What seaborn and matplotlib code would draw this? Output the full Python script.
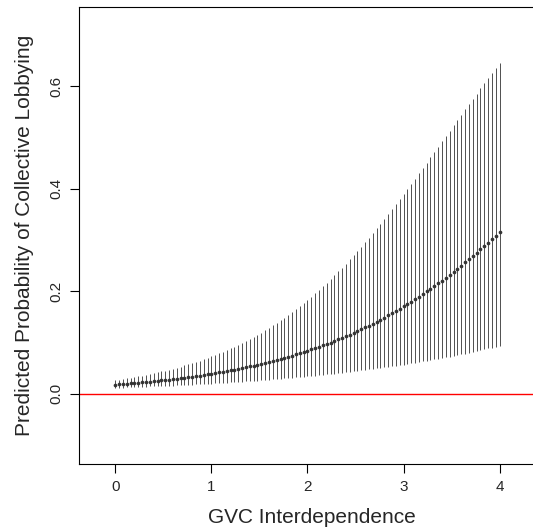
import numpy as np
import seaborn as sns
import matplotlib.pyplot as plt

# GVC interdependence grid (step 0.04)
gvc = np.round(np.arange(0, 101) * 0.04, 2)

# predicted probability (point estimate)
pred = [
    0.0180, 0.0186, 0.0192, 0.0198, 0.0204, 0.0211, 0.0217, 0.0224, 0.0232, 0.0239,
    0.0247, 0.0254, 0.0263, 0.0271, 0.0280, 0.0289, 0.0298, 0.0307, 0.0317, 0.0327,
    0.0337, 0.0348, 0.0359, 0.0370, 0.0382, 0.0394, 0.0406, 0.0419, 0.0432, 0.0446,
    0.0460, 0.0474, 0.0489, 0.0504, 0.0520, 0.0536, 0.0552, 0.0569, 0.0587, 0.0605,
    0.0624, 0.0643, 0.0663, 0.0683, 0.0704, 0.0725, 0.0747, 0.0770, 0.0793, 0.0817,
    0.0841, 0.0867, 0.0892, 0.0919, 0.0946, 0.0974, 0.1002, 0.1032, 0.1062, 0.1093,
    0.1124, 0.1157, 0.1190, 0.1225, 0.1260, 0.1297, 0.1333, 0.1371, 0.1410, 0.1449,
    0.1489, 0.1531, 0.1573, 0.1616, 0.1660, 0.1705, 0.1751, 0.1798, 0.1846, 0.1895,
    0.1945, 0.1996, 0.2048, 0.2101, 0.2155, 0.2210, 0.2266, 0.2323, 0.2381, 0.2440,
    0.2501, 0.2562, 0.2624, 0.2687, 0.2751, 0.2815, 0.2881, 0.2947, 0.3015, 0.3084,
    0.3152,
]

# upper bound of the interval
upper = [
    0.0270, 0.0281, 0.0293, 0.0305, 0.0318, 0.0331, 0.0344, 0.0358, 0.0373, 0.0388,
    0.0404, 0.0421, 0.0438, 0.0456, 0.0474, 0.0494, 0.0514, 0.0534, 0.0556, 0.0578,
    0.0602, 0.0626, 0.0651, 0.0677, 0.0703, 0.0731, 0.0760, 0.0790, 0.0820, 0.0853,
    0.0886, 0.0920, 0.0956, 0.0992, 0.1030, 0.1070, 0.1111, 0.1152, 0.1196, 0.1241,
    0.1287, 0.1334, 0.1383, 0.1434, 0.1486, 0.1540, 0.1595, 0.1652, 0.1710, 0.1770,
    0.1832, 0.1896, 0.1961, 0.2027, 0.2096, 0.2166, 0.2238, 0.2311, 0.2386, 0.2463,
    0.2541, 0.2621, 0.2703, 0.2786, 0.2871, 0.2957, 0.3045, 0.3134, 0.3225, 0.3317,
    0.3411, 0.3505, 0.3601, 0.3698, 0.3795, 0.3894, 0.3994, 0.4095, 0.4196, 0.4297,
    0.4401, 0.4505, 0.4608, 0.4713, 0.4817, 0.4921, 0.5026, 0.5130, 0.5235, 0.5339,
    0.5442, 0.5545, 0.5648, 0.5750, 0.5852, 0.5953, 0.6054, 0.6153, 0.6252, 0.6349,
    0.6445,
]

# lower bound of the interval
lower = [
    0.0120, 0.0122, 0.0125, 0.0127, 0.0130, 0.0133, 0.0136, 0.0139, 0.0142, 0.0145,
    0.0148, 0.0151, 0.0154, 0.0157, 0.0161, 0.0164, 0.0168, 0.0171, 0.0175, 0.0179,
    0.0183, 0.0186, 0.0190, 0.0194, 0.0199, 0.0203, 0.0207, 0.0212, 0.0216, 0.0221,
    0.0225, 0.0230, 0.0235, 0.0240, 0.0245, 0.0250, 0.0255, 0.0261, 0.0266, 0.0272,
    0.0278, 0.0284, 0.0290, 0.0296, 0.0302, 0.0308, 0.0315, 0.0321, 0.0328, 0.0335,
    0.0342, 0.0349, 0.0357, 0.0364, 0.0372, 0.0379, 0.0387, 0.0395, 0.0404, 0.0412,
    0.0421, 0.0429, 0.0438, 0.0447, 0.0457, 0.0466, 0.0476, 0.0485, 0.0496, 0.0506,
    0.0516, 0.0527, 0.0538, 0.0549, 0.0560, 0.0571, 0.0583, 0.0595, 0.0607, 0.0620,
    0.0632, 0.0645, 0.0658, 0.0672, 0.0685, 0.0699, 0.0713, 0.0727, 0.0742, 0.0757,
    0.0772, 0.0787, 0.0803, 0.0819, 0.0835, 0.0852, 0.0869, 0.0886, 0.0903, 0.0921,
    0.0939,
]

x_ticks = [0, 1, 2, 3, 4]
y_ticks = [0.0, 0.2, 0.4, 0.6]
y_tick_labels = ["0.0", "0.2", "0.4", "0.6"]

sns.set_style("white")
plt.rcParams['font.family'] = ['Liberation Sans', 'DejaVu Sans']

fig = plt.figure(figsize=(5.33, 5.31), dpi=100)
# right edge of the box falls just outside the image, as in the original
ax = fig.add_axes([0.149, 0.1267, 0.871, 0.8592])

# interval bars
ax.vlines(gvc, lower, upper, color="#333333", linewidth=0.6)
# point estimates
sns.scatterplot(x=gvc, y=pred, ax=ax, color="#333333", s=7, linewidth=0)
# reference line at zero
ax.axhline(0, color="red", linewidth=1)

ax.set_xlim(-0.373, 4.458)
ax.set_ylim(-0.136, 0.753)
ax.set_xticks(x_ticks)
ax.set_xticklabels([str(t) for t in x_ticks])
ax.set_yticks(y_ticks)
ax.set_yticklabels(y_tick_labels, rotation=90, va="center")

ax.tick_params(axis="both", direction="out", length=6.5, width=0.8,
               color="black", labelsize=11, pad=5, bottom=True, left=True)
for sp in ax.spines.values():
    sp.set_color("black")
    sp.set_linewidth(0.8)

ax.set_xlabel("GVC Interdependence", fontsize=15, labelpad=10)
ax.set_ylabel("Predicted Probability of Collective Lobbying", fontsize=15, labelpad=11)

fig.savefig("out.png", dpi=100)
